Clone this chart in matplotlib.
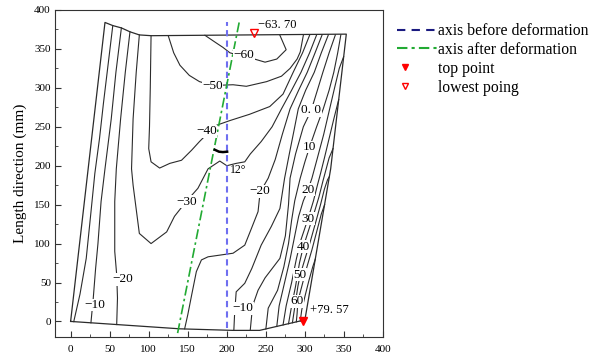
import matplotlib.pyplot as plt
from matplotlib.lines import Line2D
from matplotlib.legend_handler import HandlerLine2D
from matplotlib.ticker import MultipleLocator

plt.rcParams['font.family'] = ['Liberation Serif', 'DejaVu Serif']

# outline of the deformed plate (mm)
outline = [(0, 0), (44, 384), (54, 380), (65, 377), (76, 372), (88, 368), (103, 367),
           (353, 369), (333, 196), (300, 2), (242, -11.5), (208, -11.5), (140, -9.5), (0, 0)]

# contour lines
left_0 = [(54, 380), (48, 330), (42, 280), (37, 235), (31, 190), (26, 140), (20, 81), (12, 35), (4, -0.3)]
left_m10 = [(65, 377), (58, 320), (52, 260), (44, 196), (39, 154), (35, 100), (32, 68), (29, 30), (26, -1.8)]
left_m20 = [(76, 372), (70, 320), (64, 260), (58.5, 196), (56.5, 154), (56.5, 90), (59, 60), (60, 30), (59, -4)]
line_m30 = [(88, 368), (84, 320), (80, 260), (78, 196), (80, 175), (88, 113), (103, 100), (123, 115), (133, 135),
            (148, 154), (163, 171), (176, 196), (191, 206), (200, 200), (212, 203), (223, 205), (230, 215),
            (244, 231), (258, 250), (270, 273), (283, 297), (295, 320), (306, 345), (315, 368)]
line_m40 = [(103, 367), (102, 300), (101, 250), (100, 222), (103, 205), (114, 197), (127, 203), (142, 207),
            (155, 220), (165, 231), (176, 242), (187, 252), (204, 258), (229, 266), (255, 276), (272, 292),
            (285, 320), (297, 345), (306, 367.5)]
line_m50 = [(125, 367), (132, 345), (140, 329), (152, 316), (165, 308), (182, 303), (208, 304), (225, 302),
            (251, 308), (270, 315), (281, 325), (290, 337), (294, 346), (298, 367.5)]
line_m60 = [(172, 367.5), (186, 358), (195, 352), (204, 345), (222, 340), (232, 338), (249, 333), (264, 337),
            (276, 349), (268, 367.5)]
line_m20 = [(146, -9.5), (150, 8.5), (155, 34), (161, 64), (167.5, 79), (176, 83), (208, 87.6), (223, 98),
            (231.6, 119.6), (240, 141), (242, 160), (245, 170), (249, 177), (253, 184), (262, 208), (271, 240),
            (281, 273), (292, 297), (303, 320), (313, 345), (322, 368)]
line_m10 = [(209, -11.5), (210, 10), (212, 38), (223, 49), (232, 68), (244, 98), (257, 122), (268, 145),
            (274, 184), (280, 215), (286, 245), (291.5, 273), (301, 297), (312, 320), (321, 345), (330, 368)]
line_0 = [(230, -11.5), (233, 20), (240, 40), (249, 56), (268, 81), (275, 110), (279, 150), (281, 184),
          (288, 215), (298, 250), (308, 271), (316, 297), (323, 320), (331, 345), (339, 368)]
line_10 = [(250, -9.8), (253, 17), (265, 40), (273, 70), (279, 100), (283, 130), (287, 155), (294, 184),
           (300, 205), (306, 224), (315, 250), (323.5, 273), (331, 297), (337, 320), (342, 345), (346, 368)]
line_20 = [(264, -6.5), (267, 20), (274, 50), (281, 80), (287, 110), (292, 135), (298, 155), (304, 169),
           (309, 184), (316, 210), (324, 240), (331, 270), (338, 300), (344, 325), (349.6, 340)]
line_30 = [(272, -4.5), (276, 20), (283, 50), (289, 80), (295, 105), (304, 132), (311, 155), (316, 175),
           (320, 190), (325, 210), (331, 235), (337, 260), (343.3, 285)]
line_40 = [(279, -3), (283, 20), (288, 45), (293, 75), (298, 96), (305, 118), (312, 140), (318, 160),
           (323, 180), (327, 195), (331, 210), (336, 222)]
line_50 = [(284, -1.7), (288, 25), (291, 45), (294, 60), (300, 80), (307, 103), (314, 128), (320, 150),
           (325, 170), (329, 182), (331.3, 186)]
line_60 = [(289, -0.6), (290, 10), (291, 26), (296, 45), (302, 68), (309, 92), (315, 115), (321, 138), (325.3, 150)]
line_70 = [(294, 0.4), (296, 15), (300, 32), (305, 52), (310, 70), (313.3, 80)]

contour_lines = [left_0, left_m10, left_m20, line_m30, line_m40, line_m50, line_m60, line_m20,
                 line_m10, line_0, line_10, line_20, line_30, line_40, line_50, line_60, line_70]

label_text = ['−10', '−20', '−30', '−40', '−50', '−60', '−20', '−10', '0. 0', '10', '20', '30', '40', '50', '60']
label_x = [31, 67, 148, 174, 182, 222, 242, 221, 308, 306, 304, 304, 298, 294, 290]
label_y = [21, 54, 154, 244, 303, 342, 167, 17, 271, 224, 169, 132, 96, 60, 26]

# axes before / after deformation
before_x = [200, 200]
before_y = [-8, 385]
after_x = [137, 216]
after_y = [-15, 385]

# extreme points
top_pt = (297, 1)
low_pt = (234.6, 370)
angle_arc = [(184.6, 220.5), (190, 218), (195, 217.5), (200.4, 218)]

fig = plt.figure(figsize=(5.91, 3.57), dpi=100)
ax = fig.add_axes([55 / 591, 1 - 337 / 357, 328 / 591, 327 / 357])

ox, oy = zip(*outline)
ax.plot(ox, oy, color='#2b2b2b', lw=0.9)
for ln in contour_lines:
    xs, ys = zip(*ln)
    ax.plot(xs, ys, color='#2b2b2b', lw=0.8)

for t, x, y in zip(label_text, label_x, label_y):
    ax.text(x, y, t, fontsize=9.5, ha='center', va='center',
            bbox=dict(facecolor='white', edgecolor='none', pad=0.3))

ax.plot(before_x, before_y, color='#6f6ff0', lw=1.5, ls=(0, (3, 2)))
ax.plot(after_x, after_y, color='#22aa33', lw=1.2, ls=(0, (6, 2, 1.5, 2)))

ax.plot(*zip(*angle_arc), color='black', lw=1.8)
ax.text(204, 194, '12°', fontsize=8.5, ha='left', va='center')

ax.plot([top_pt[0]], [top_pt[1]], marker='v', color='red', ms=6, ls='none')
ax.plot([low_pt[0]], [low_pt[1]], marker='v', mfc='none', mec='red', ms=6, ls='none')
ax.text(240, 381, '−63. 70', fontsize=9, ha='left', va='center')
ax.text(306, 15, '+79. 57', fontsize=9, ha='left', va='center')

ax.set_xlim(-20, 400)
ax.set_ylim(-20, 400)
ax.xaxis.set_major_locator(MultipleLocator(50))
ax.xaxis.set_minor_locator(MultipleLocator(25))
ax.yaxis.set_major_locator(MultipleLocator(50))
ax.yaxis.set_minor_locator(MultipleLocator(25))
ax.tick_params(which='both', direction='in', top=False, right=False, labelsize=8, color='#333333')
ax.tick_params(which='major', length=4)
ax.tick_params(which='minor', length=2)
ax.tick_params(axis='x', pad=6)
ax.tick_params(axis='y', pad=3)
for s in ax.spines.values():
    s.set_color('#333333')
ax.set_ylabel('Length direction (mm)', fontsize=11, labelpad=5)


class LeftMarker(HandlerLine2D):
    def get_xdata(self, legend, xdescent, ydescent, width, height, fontsize):
        x = [-xdescent + 0.2 * width]
        return x, x


handles = [
    Line2D([], [], color='#1a1a80', lw=1.5, ls=(0, (4, 3))),
    Line2D([], [], color='#22aa33', lw=1.5, ls=(0, (5, 2, 1.5, 2))),
    Line2D([], [], color='red', marker='v', ls='none', ms=5),
    Line2D([], [], mfc='none', mec='red', marker='v', ls='none', ms=5),
]
labels = ['axis before deformation', 'axis after deformation', 'top point', 'lowest poing']
ax.legend(handles, labels, loc='upper left', bbox_to_anchor=(1.025, 0.979), frameon=False,
          fontsize=11.3, handlelength=2.5, handletextpad=0.1, labelspacing=0.18, borderaxespad=0,
          handler_map={handles[2]: LeftMarker(), handles[3]: LeftMarker()})

fig.savefig('out.png', dpi=100)
